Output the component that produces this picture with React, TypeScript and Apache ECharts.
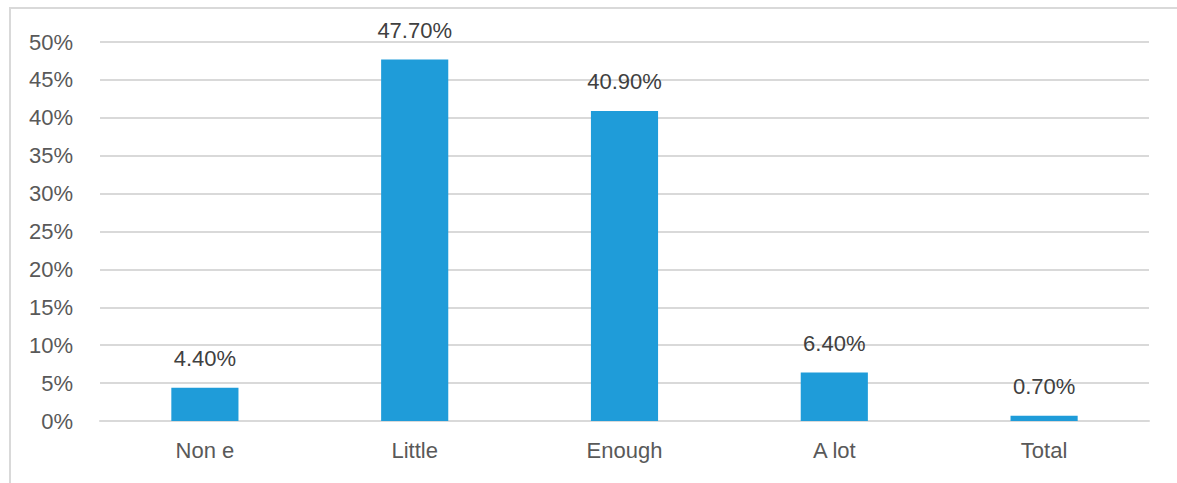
import React, { useEffect, useRef } from "react";
import * as echarts from "echarts";

const categories = ["Non e", "Little", "Enough", "A lot", "Total"];
const shares = [4.4, 47.7, 40.9, 6.4, 0.7];

export default function App() {
  const ref = useRef<HTMLDivElement>(null);

  useEffect(() => {
    if (!ref.current) return;
    const chart = echarts.init(ref.current, undefined, { renderer: "svg" });
    const font = "'Liberation Sans', Arial, sans-serif";
    chart.setOption({
      animation: false,
      backgroundColor: "#ffffff",
      graphic: [
        {
          type: "rect",
          shape: { x: 10, y: 8, width: 1200, height: 520 },
          style: { fill: "none", stroke: "#d9d9d9", lineWidth: 2 },
          silent: true,
        },
      ],
      grid: { left: 100, right: 28, top: 42, bottom: 62 },
      xAxis: {
        type: "category",
        data: categories,
        axisLine: { show: true, lineStyle: { color: "#d9d9d9", width: 2 } },
        axisTick: { show: false },
        axisLabel: { color: "#595959", fontSize: 22, fontFamily: font, margin: 18 },
      },
      yAxis: {
        type: "value",
        min: 0,
        max: 50,
        interval: 5,
        axisLine: { show: false },
        axisTick: { show: false },
        splitLine: { lineStyle: { color: "#d9d9d9", width: 2 } },
        axisLabel: {
          color: "#595959",
          fontSize: 22,
          fontFamily: font,
          margin: 27,
          formatter: "{value}%",
        },
      },
      series: [
        {
          type: "bar",
          data: shares,
          barWidth: "32%",
          itemStyle: { color: "#1f9cd9" },
          label: {
            show: true,
            position: "top",
            distance: 18,
            color: "#404040",
            fontSize: 22,
            fontFamily: font,
            formatter: (p: any) => p.value.toFixed(2) + "%",
          },
        },
      ],
    });
    return () => chart.dispose();
  }, []);

  return (
    <div
      ref={ref}
      style={{ position: "fixed", left: 0, top: 0, width: 1177, height: 483 }}
    />
  );
}
